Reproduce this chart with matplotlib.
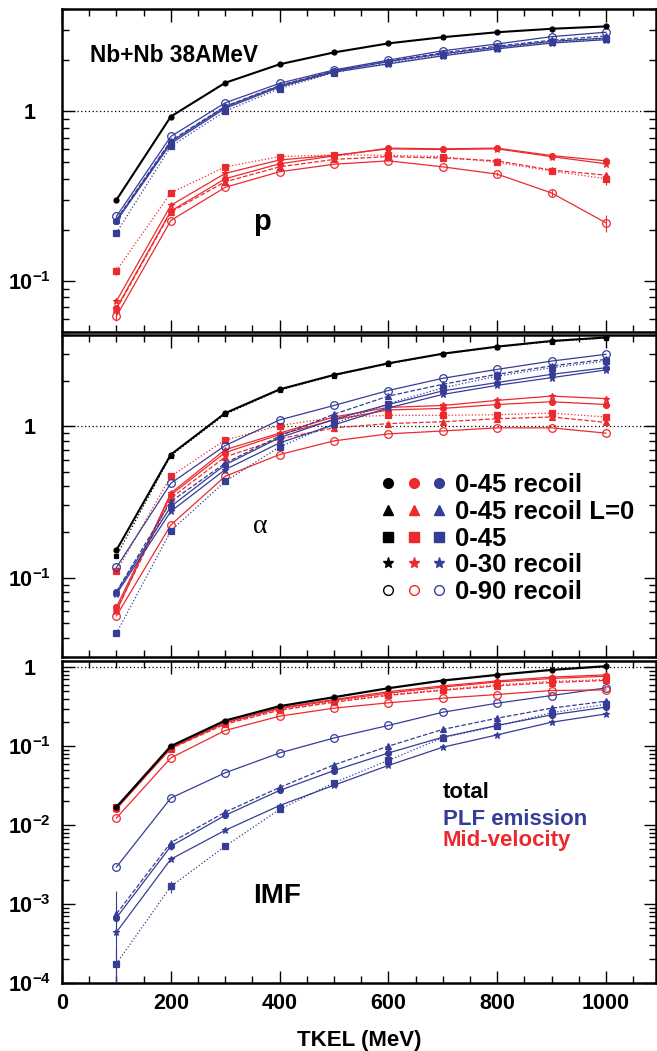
import matplotlib
matplotlib.use('Agg')
import matplotlib.pyplot as plt
from matplotlib.ticker import LogLocator, MultipleLocator, NullFormatter
from matplotlib.legend_handler import HandlerTuple
from matplotlib.lines import Line2D
import numpy as np

plt.rcParams['font.family'] = ['Liberation Sans', 'DejaVu Sans']
plt.rcParams['font.weight'] = 'bold'
plt.rcParams['mathtext.fontset'] = 'custom'
plt.rcParams['mathtext.rm'] = 'Liberation Sans:bold'
plt.rcParams['mathtext.bf'] = 'Liberation Sans:bold'
plt.rcParams['mathtext.it'] = 'Liberation Sans:bold:italic'

# ---------------- data ----------------
tkel = [100, 200, 300, 400, 500, 600, 700, 800, 900, 1000]

# protons
p_black = [0.30, 0.93, 1.47, 1.89, 2.22, 2.51, 2.73, 2.92, 3.06, 3.16]
p_blue_c45 = [0.227, 0.66, 1.06, 1.41, 1.72, 1.96, 2.18, 2.38, 2.58, 2.70]
p_blue_l0 = [0.23, 0.67, 1.07, 1.42, 1.73, 1.97, 2.21, 2.42, 2.62, 2.78]
p_blue_sq = [0.192, 0.62, 1.00, 1.36, 1.69, 1.92, 2.14, 2.35, 2.55, 2.66]
p_blue_st = [0.225, 0.645, 1.04, 1.39, 1.70, 1.90, 2.12, 2.33, 2.52, 2.64]
p_blue_o90 = [0.24, 0.71, 1.12, 1.46, 1.75, 2.00, 2.27, 2.49, 2.75, 2.92]
p_red_c45 = [0.069, 0.258, 0.40, 0.49, 0.545, 0.606, 0.60, 0.606, 0.548, 0.51]
p_red_l0 = [0.068, 0.255, 0.384, 0.47, 0.52, 0.54, 0.53, 0.51, 0.45, 0.42]
p_red_sq = [0.115, 0.33, 0.47, 0.54, 0.553, 0.55, 0.54, 0.50, 0.444, 0.40]
p_red_st = [0.076, 0.279, 0.43, 0.516, 0.55, 0.60, 0.595, 0.60, 0.54, 0.49]
p_red_o90 = [0.062, 0.227, 0.356, 0.44, 0.487, 0.51, 0.47, 0.426, 0.33, 0.22]
p_red_c45_err = [0, 0, 0, 0, 0, 0, 0, 0.01, 0.015, 0.03]
p_red_sq_err = [0.006, 0, 0, 0, 0, 0, 0.01, 0.015, 0.02, 0.035]
p_red_o90_err = [0.004, 0, 0, 0, 0, 0, 0, 0.01, 0.015, 0.025]

# alphas
a_black = [0.152, 0.65, 1.22, 1.75, 2.18, 2.60, 3.01, 3.35, 3.65, 3.85]
a_black_o90 = [0.139, 0.64, 1.20, 1.73, 2.16, 2.58, 2.99, 3.33, 3.62, 3.82]
a_blue_c45 = [0.080, 0.295, 0.557, 0.84, 1.11, 1.39, 1.71, 1.94, 2.20, 2.43]
a_blue_l0 = [0.081, 0.318, 0.57, 0.86, 1.20, 1.58, 1.89, 2.20, 2.50, 2.76]
a_blue_sq = [0.043, 0.204, 0.432, 0.73, 1.04, 1.41, 1.79, 2.14, 2.43, 2.69]
a_blue_st = [0.078, 0.274, 0.517, 0.776, 1.02, 1.32, 1.62, 1.86, 2.09, 2.35]
a_blue_o90 = [0.117, 0.42, 0.745, 1.10, 1.37, 1.72, 2.07, 2.37, 2.69, 2.98]
a_red_c45 = [0.064, 0.352, 0.67, 0.88, 1.10, 1.28, 1.31, 1.39, 1.45, 1.39]
a_red_l0 = [0.061, 0.335, 0.627, 0.825, 0.975, 1.04, 1.07, 1.12, 1.15, 1.06]
a_red_sq = [0.11, 0.467, 0.81, 1.01, 1.14, 1.18, 1.18, 1.19, 1.22, 1.15]
a_red_st = [0.060, 0.362, 0.70, 0.90, 1.15, 1.33, 1.37, 1.48, 1.58, 1.52]
a_red_o90 = [0.056, 0.223, 0.467, 0.65, 0.80, 0.89, 0.93, 0.975, 0.975, 0.90]

# IMFs
i_black = [0.0169, 0.100, 0.211, 0.321, 0.417, 0.542, 0.678, 0.80, 0.925, 1.03]
i_red_c45 = [0.016, 0.094, 0.198, 0.30, 0.38, 0.47, 0.56, 0.65, 0.72, 0.77]
i_red_l0 = [0.0165, 0.093, 0.19, 0.285, 0.36, 0.44, 0.51, 0.58, 0.64, 0.68]
i_red_sq = [0.017, 0.095, 0.195, 0.29, 0.37, 0.45, 0.52, 0.60, 0.66, 0.70]
i_red_st = [0.017, 0.096, 0.20, 0.305, 0.39, 0.49, 0.58, 0.67, 0.75, 0.80]
i_red_o90 = [0.0123, 0.071, 0.158, 0.24, 0.303, 0.354, 0.405, 0.451, 0.507, 0.516]
i_blue_c45 = [0.00067, 0.0054, 0.0133, 0.0275, 0.049, 0.082, 0.13, 0.183, 0.249, 0.312]
i_blue_l0 = [0.00075, 0.0060, 0.0146, 0.030, 0.058, 0.100, 0.163, 0.226, 0.303, 0.371]
i_blue_sq = [0.000176, 0.00167, 0.0054, 0.0158, 0.0344, 0.066, 0.128, 0.18, 0.265, 0.34]
i_blue_st = [0.00044, 0.0037, 0.0086, 0.0177, 0.032, 0.057, 0.097, 0.139, 0.201, 0.256]
i_blue_o90 = [0.00294, 0.022, 0.046, 0.082, 0.127, 0.183, 0.269, 0.35, 0.438, 0.547]
i_blue_c45_err = [0.00028, 0.0006, 0, 0, 0, 0, 0, 0, 0, 0]
i_blue_l0_err = [0.0007, 0, 0, 0, 0, 0, 0, 0, 0, 0]
i_blue_sq_err = [0.0001, 0.0003, 0, 0, 0, 0, 0, 0, 0, 0]

legend_labels = ['0-45 recoil', '0-45 recoil L=0', '0-45', '0-30 recoil', '0-90 recoil']
source_labels = ['total', 'PLF emission', 'Mid-velocity']

BLACK = 'black'
RED = '#ec2a2e'
BLUE = '#363d97'

STYLES = {
    'c45': dict(marker='o', ls='-', fill=True, ms=4.2),
    'l0': dict(marker='^', ls='--', fill=True, ms=4.5),
    'sq': dict(marker='s', ls=':', fill=True, ms=4.0),
    'st': dict(marker='*', ls='-', fill=True, ms=4.5),
    'o90': dict(marker='o', ls='-', fill=False, ms=5.5),
}


def series(ax, y, color, kind, lw=0.9, yerr=None, ms=None):
    st = STYLES[kind]
    m = st['ms'] if ms is None else ms
    ax.plot(tkel, y, color=color, ls=st['ls'], lw=lw, marker=st['marker'], ms=m,
            mfc=color if st['fill'] else 'none', mec=color, mew=0.9, zorder=3)
    if yerr is not None:
        ax.errorbar(tkel, y, yerr=yerr, fmt='none', ecolor=color, elinewidth=0.8,
                    capsize=0, zorder=3)


fig = plt.figure(figsize=(6.57, 10.51), dpi=100)
ax1 = fig.add_axes([0.0944, 0.6841, 0.904, 0.3073])
ax2 = fig.add_axes([0.0944, 0.3749, 0.904, 0.3064])
ax3 = fig.add_axes([0.0944, 0.0647, 0.904, 0.3064])


def label_of(v):
    if abs(v - 1) < 1e-9:
        return '1'
    e = int(round(np.log10(v)))
    return r'$\mathbf{10^{%d}}$' % e


def style_axis(ax, ylim, decades, show_x):
    ax.set_yscale('log')
    ax.set_xlim(0, 1092)
    ax.set_ylim(*ylim)
    ax.xaxis.set_major_locator(MultipleLocator(200))
    ax.xaxis.set_minor_locator(MultipleLocator(50))
    ax.set_yticks(decades)
    ax.set_yticklabels([label_of(v) for v in decades])
    ax.yaxis.set_minor_locator(LogLocator(base=10, subs=np.arange(2, 10), numticks=30))
    ax.yaxis.set_minor_formatter(NullFormatter())
    ax.tick_params(which='both', direction='in', top=True, right=True, width=1.0)
    ax.tick_params(which='major', length=9)
    ax.tick_params(which='minor', length=5)
    ax.tick_params(axis='y', which='major', labelsize=15.5, pad=23.5)
    ax.tick_params(axis='x', which='major', labelsize=15.5, pad=7, labelbottom=show_x)
    for lab in ax.get_yticklabels():
        lab.set_horizontalalignment('center')
    for s in ax.spines.values():
        s.set_linewidth(1.8)
    ax.axhline(1, color='black', ls=(0, (1, 2)), lw=0.9, zorder=1)


style_axis(ax1, (0.05, 4.0), [0.1, 1], False)
style_axis(ax2, (0.03, 4.0), [0.1, 1], False)
style_axis(ax3, (1e-4, 1.2), [1e-4, 1e-3, 1e-2, 1e-1, 1], True)

# ---- protons
series(ax1, p_red_o90, RED, 'o90', yerr=p_red_o90_err)
series(ax1, p_red_sq, RED, 'sq', yerr=p_red_sq_err)
series(ax1, p_red_l0, RED, 'l0')
series(ax1, p_red_st, RED, 'st')
series(ax1, p_red_c45, RED, 'c45', yerr=p_red_c45_err)
series(ax1, p_blue_o90, BLUE, 'o90')
series(ax1, p_blue_sq, BLUE, 'sq')
series(ax1, p_blue_l0, BLUE, 'l0')
series(ax1, p_blue_st, BLUE, 'st')
series(ax1, p_blue_c45, BLUE, 'c45')
series(ax1, p_black, BLACK, 'c45', lw=1.5, ms=3.6)

# ---- alphas
series(ax2, a_red_o90, RED, 'o90')
series(ax2, a_red_sq, RED, 'sq')
series(ax2, a_red_l0, RED, 'l0')
series(ax2, a_red_st, RED, 'st')
series(ax2, a_red_c45, RED, 'c45')
series(ax2, a_blue_o90, BLUE, 'o90')
series(ax2, a_blue_sq, BLUE, 'sq')
series(ax2, a_blue_l0, BLUE, 'l0')
series(ax2, a_blue_st, BLUE, 'st')
series(ax2, a_blue_c45, BLUE, 'c45')
series(ax2, a_black_o90, BLACK, 'sq', lw=0.9, ms=3.0)
series(ax2, a_black, BLACK, 'c45', lw=1.5, ms=3.6)

# ---- IMFs
series(ax3, i_blue_o90, BLUE, 'o90')
series(ax3, i_blue_sq, BLUE, 'sq', yerr=i_blue_sq_err)
series(ax3, i_blue_l0, BLUE, 'l0', yerr=i_blue_l0_err)
series(ax3, i_blue_st, BLUE, 'st')
series(ax3, i_blue_c45, BLUE, 'c45', yerr=i_blue_c45_err)
series(ax3, i_red_o90, RED, 'o90')
series(ax3, i_red_sq, RED, 'sq')
series(ax3, i_red_l0, RED, 'l0')
series(ax3, i_red_st, RED, 'st')
series(ax3, i_red_c45, RED, 'c45')
series(ax3, i_black, BLACK, 'c45', lw=1.6, ms=3.6)

# ---- panel labels
ax1.text(0.047, 0.836, 'Nb+Nb 38AMeV', transform=ax1.transAxes, fontsize=16.3,
         fontweight='bold', ha='left', va='baseline')
ax1.text(0.322, 0.316, 'p', transform=ax1.transAxes, fontsize=21,
         fontweight='bold', ha='left', va='baseline')
ax2.text(0.322, 0.385, 'α', transform=ax2.transAxes, fontsize=20,
         family=['Liberation Serif', 'DejaVu Serif'], fontweight='normal',
         ha='left', va='baseline')
ax3.text(0.322, 0.248, 'IMF', transform=ax3.transAxes, fontsize=20,
         fontweight='bold', ha='left', va='baseline')

# ---- marker legend (alpha panel)
handles = []
for kind in ['c45', 'l0', 'sq', 'st', 'o90']:
    st = STYLES[kind]
    trio = []
    for c in (BLACK, RED, BLUE):
        trio.append(Line2D([], [], ls='none', marker=st['marker'],
                           ms=7 if kind != 'st' else 8,
                           mfc=c if st['fill'] else 'none', mec=c, mew=1.0))
    handles.append(tuple(trio))
ax2.legend(handles, legend_labels, handler_map={tuple: HandlerTuple(ndivide=None, pad=0.55)},
           loc='upper left', bbox_to_anchor=(0.54, 0.57), frameon=False,
           fontsize=18.5, handlelength=2.4, handletextpad=0.4, labelspacing=0.1,
           borderpad=0, borderaxespad=0)

# ---- colour legend (IMF panel)
for lab, col, yy in zip(source_labels, (BLACK, BLUE, RED), (0.575, 0.491, 0.425)):
    ax3.text(0.641, yy, lab, transform=ax3.transAxes, color=col, fontsize=16,
             fontweight='bold', ha='left', va='baseline')

ax3.set_xlabel('TKEL (MeV)', fontsize=16, fontweight='bold', labelpad=12)

fig.savefig('out.png', dpi=100)
